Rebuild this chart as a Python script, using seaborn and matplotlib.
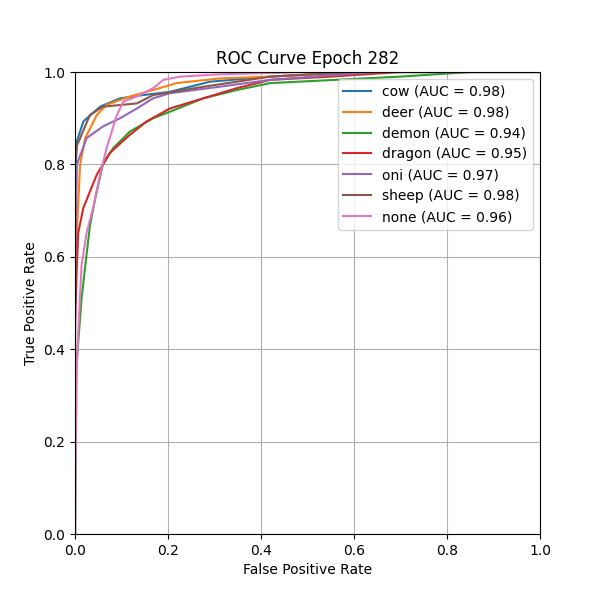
import matplotlib
matplotlib.use("Agg")
import matplotlib.pyplot as plt
import pandas as pd
import seaborn as sns

# ROC points (fpr, tpr) per class
classes = ['cow', 'deer', 'demon', 'dragon', 'oni', 'sheep', 'none']
aucs = [0.98, 0.98, 0.94, 0.95, 0.97, 0.98, 0.96]

fpr_cow = [0, 0, 0.004, 0.018, 0.054, 0.097, 0.146, 0.204, 0.29, 0.42, 0.6, 1.0]
tpr_cow = [0, 0.75, 0.85, 0.893, 0.925, 0.943, 0.95, 0.957, 0.979, 0.99, 1.0, 1.0]

fpr_deer = [0, 0, 0.004, 0.011, 0.022, 0.047, 0.068, 0.118, 0.168, 0.219, 0.31, 0.42, 0.6, 1.0]
tpr_deer = [0, 0.55, 0.655, 0.80, 0.857, 0.907, 0.929, 0.947, 0.961, 0.976, 0.986, 0.99, 1.0, 1.0]

fpr_demon = [0, 0.002, 0.014, 0.022, 0.032, 0.043, 0.06, 0.082, 0.118, 0.168, 0.204, 0.276, 0.348, 0.42, 0.5, 0.7, 0.85, 1.0]
tpr_demon = [0, 0.35, 0.508, 0.58, 0.666, 0.724, 0.80, 0.835, 0.871, 0.90, 0.914, 0.943, 0.961, 0.976, 0.98, 0.99, 1.0, 1.0]

fpr_dragon = [0, 0, 0.004, 0.007, 0.018, 0.032, 0.047, 0.075, 0.118, 0.154, 0.204, 0.276, 0.348, 0.42, 0.55, 0.7, 1.0]
tpr_dragon = [0, 0.45, 0.58, 0.652, 0.706, 0.741, 0.778, 0.825, 0.864, 0.893, 0.921, 0.943, 0.965, 0.983, 0.99, 1.0, 1.0]

fpr_oni = [0, 0, 0.004, 0.025, 0.06, 0.097, 0.133, 0.168, 0.204, 0.31, 0.42, 0.55, 0.65, 1.0]
tpr_oni = [0, 0.55, 0.80, 0.857, 0.882, 0.90, 0.921, 0.943, 0.954, 0.968, 0.983, 0.993, 1.0, 1.0]

fpr_sheep = [0, 0, 0.004, 0.032, 0.06, 0.133, 0.168, 0.276, 0.42, 0.6, 1.0]
tpr_sheep = [0, 0.80, 0.84, 0.907, 0.925, 0.932, 0.95, 0.968, 0.99, 1.0, 1.0]

fpr_none = [0, 0.002, 0.004, 0.007, 0.014, 0.025, 0.039, 0.054, 0.068, 0.09, 0.104, 0.133, 0.168, 0.19, 0.226, 0.31, 0.5, 1.0]
tpr_none = [0, 0.2, 0.364, 0.436, 0.58, 0.652, 0.706, 0.778, 0.835, 0.907, 0.936, 0.947, 0.965, 0.983, 0.99, 0.995, 1.0, 1.0]

fprs = [fpr_cow, fpr_deer, fpr_demon, fpr_dragon, fpr_oni, fpr_sheep, fpr_none]
tprs = [tpr_cow, tpr_deer, tpr_demon, tpr_dragon, tpr_oni, tpr_sheep, tpr_none]

rows = []
for name, auc, fx, ty in zip(classes, aucs, fprs, tprs):
    label = f'{name} (AUC = {auc:.2f})'
    for a, b in zip(fx, ty):
        rows.append({'fpr': a, 'tpr': b, 'label': label})
df = pd.DataFrame(rows)

fig, ax = plt.subplots(figsize=(6, 6), dpi=100)
sns.lineplot(data=df, x='fpr', y='tpr', hue='label', sort=False, estimator=None,
             palette='tab10', linewidth=1.5, ax=ax)

ax.set_xlim(0, 1)
ax.set_ylim(0, 1)
ax.grid(True)
ax.set_title('ROC Curve Epoch 282')
ax.set_xlabel('False Positive Rate')
ax.set_ylabel('True Positive Rate')
ax.legend(loc='upper right', title=None)

fig.savefig('out.png')
